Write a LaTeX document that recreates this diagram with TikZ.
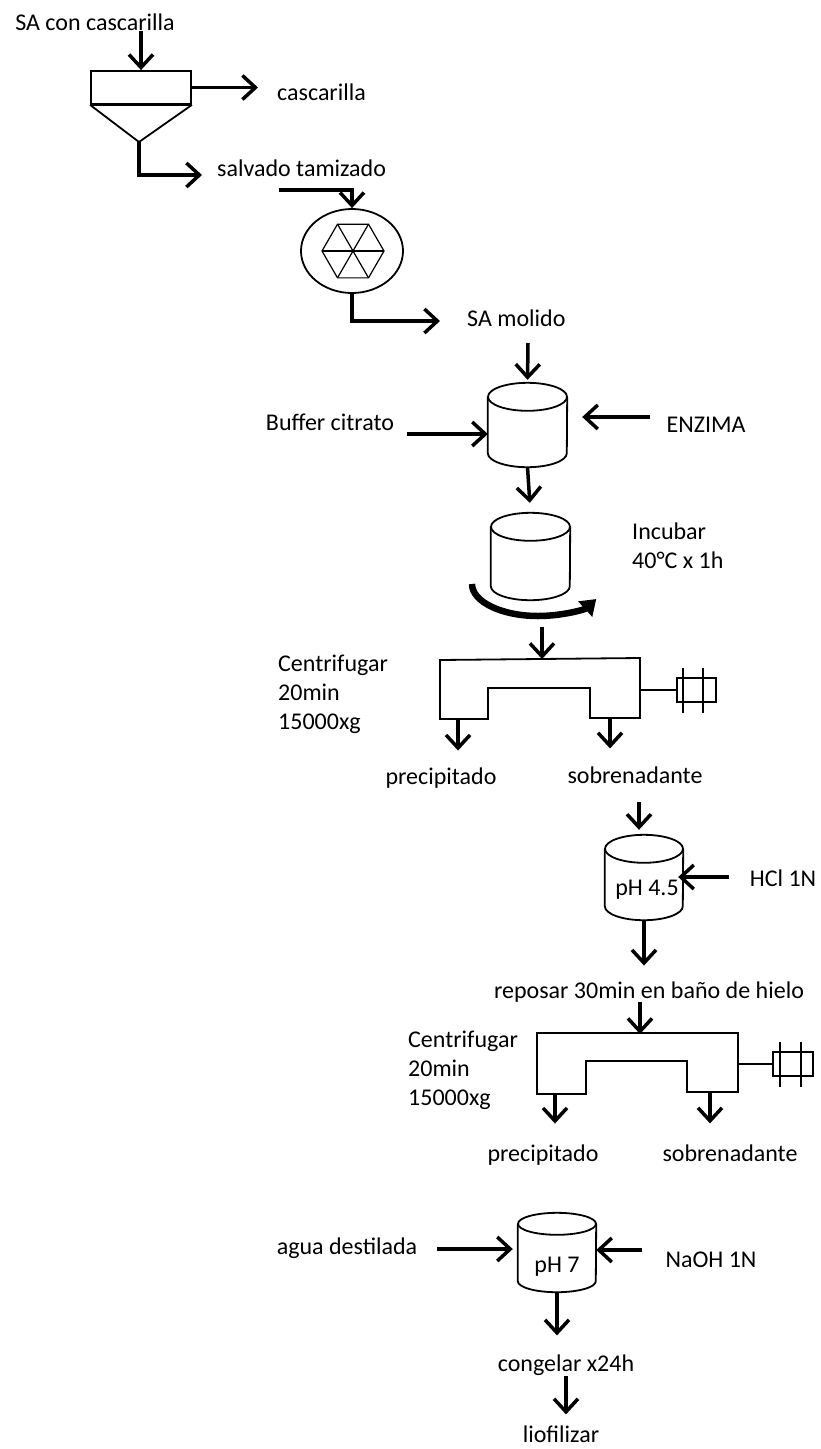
\documentclass[tikz,border=0pt]{standalone}
\usepackage{fontspec}
\setmainfont{Carlito}
\usetikzlibrary{arrows.meta,shapes.geometric,positioning}
% tanque: [ry] nombre, centro, ancho, alto
\newcommand{\drum}[5][14pt]{%
  \node[inner sep=0pt, minimum width=#4, minimum height=#5] (#2) at (#3) {};
  \draw[unit] ([yshift=-#1]#2.north) ellipse [x radius=#4/2, y radius=#1];
  \draw[unit] ([yshift=-#1]#2.north west) -- ([yshift=#1]#2.south west)
    arc[start angle=180, end angle=360, x radius=#4/2, y radius=#1]
    -- ([yshift=-#1]#2.north east);
}

\begin{document}
\begin{tikzpicture}[x=1pt, y=-1pt,
        flow/.style={line width=3.5pt, -{Straight Barb[length=13pt,width=24pt]}},
        unit/.style={draw, line width=1.8pt},
        lbl/.style={font=\fontsize{24}{29}\selectfont, inner sep=0pt}
        ]
        \useasboundingbox (0,0) rectangle (821,1449);
        % tamiz
        \node[unit, minimum width=100pt, minimum height=33pt, inner sep=0pt] (sieve) at (141,87.5) {};
        \coordinate (apex) at (139,142);
        \draw[unit] (sieve.south west) -- (apex) -- (sieve.south east);
        \draw[line width=3pt] (sieve.south west) -- (sieve.south east);
        \node[lbl] (feed) at (95,22) {SA con cascarilla};
        \draw[flow] (feed.south -| sieve.north) -- (sieve.north);
        \node[lbl, anchor=west] (husk) at (277,92) {cascarilla};
        \draw[flow, shorten >=19pt] (sieve.east) -- (husk.west |- sieve.east);
        \node[lbl, anchor=west] (sieved) at (217,168) {salvado tamizado};
        \coordinate (sv) at (202,175);
        \draw[flow] (apex) |- (sv);
        % molino
        \node[draw, ellipse, line width=1.8pt, minimum width=102pt, minimum height=84pt] (mill) at (352,251) {};
        \node[regular polygon, regular polygon sides=6, draw,
          line width=1.2pt, minimum size=62pt, inner sep=0pt, outer sep=0pt] (hex) at (353,251) {};
        \foreach \i/\j in {1/4,2/5,3/6}
          \draw[line width=1.2pt] (hex.corner \i) -- (hex.corner \j);
        \coordinate (millin) at (279,190);
        \draw[flow] (millin) -| (mill.north);
        \node[lbl, anchor=west] (milled) at (467,318) {SA molido};
        \coordinate (ml) at (440,321);
        \draw[flow] (mill.south) |- (ml);
        % mezcla
        \drum{mix}{527.5,425}{79pt}{84pt}
        \coordinate (mixin) at (528,343);
        \draw[flow, shorten >=3pt] (mixin) -- (mix.north);
        \node[lbl] (buf) at (330,422) {Buffer citrato};
        \coordinate (bufin) at (407,434);
        \draw[flow] (bufin) -- (bufin -| mix.west);
        \node[lbl] (enz) at (706,425) {ENZIMA};
        \coordinate (enzin) at (650,417);
        \draw[flow, shorten >=15pt] (enzin) -- (enzin -| mix.east);
        % incubar
        \drum{inc}{530.5,556.5}{79pt}{87pt}
        \draw[flow, shorten >=10pt] (mix.south) -- (inc.north);
        \node[lbl, anchor=west, align=left] (incl) at (632,546) {Incubar\\40°C x 1h};
        \draw[line width=6.5pt, -{Triangle[length=15pt,width=20pt]}] (472,584)
          arc[start angle=180, end angle=28, x radius=66, y radius=32];
        % centrifuga 1
        \draw[unit] (440,660) -- (640,658) -- (640,718) -- (590,718) -- (590,688)
          -- (488,688) -- (488,719) -- (440,719) -- cycle;
        \draw[unit] (640,690) -- (677,690);
        \draw[unit] (677,678) rectangle (716,702);
        \draw[unit] (683,668) -- (683,713) (703,668) -- (703,713);
        \coordinate (cf1) at (542,659);
        \coordinate (cf1in) at (542,627);
        \draw[flow] (cf1in) -- (cf1);
        \node[lbl, anchor=west, align=left] (cf1l) at (278,694) {Centrifugar\\20min\\15000xg};
        \node[lbl] (prec1) at (441,778) {precipitado};
        \node[lbl] (sup1) at (635,775) {sobrenadante};
        \coordinate (p1) at (458,719);
        \coordinate (s1) at (610,718);
        \draw[flow, shorten >=17pt] (p1) -- (p1 |- prec1.north);
        \draw[flow, shorten >=18pt] (s1) -- (s1 |- sup1.north);
        % pH 4.5
        \drum{acid}{644,877.5}{78pt}{85pt}
        \node[lbl] (acidl) at (647,890) {pH 4.5};
        \coordinate (s1out) at (639,802);
        \draw[flow, shorten >=5pt] (s1out) -- (s1out |- acid.north);
        \node[lbl] (hcl) at (783,878) {HCl 1N};
        \coordinate (hclin) at (729,877);
        \draw[flow, shorten >=-5pt] (hclin) -- (hclin -| acid.east);
        \node[lbl] (rest) at (649,992) {reposar 30min en baño de hielo};
        \draw[flow, shorten >=16pt] (acid.south) -- (acid.south |- rest.north);
        % centrifuga 2
        \draw[unit] (537,1033) -- (738,1033) -- (738,1092) -- (687,1092) -- (687,1061)
          -- (586,1061) -- (586,1094) -- (537,1094) -- cycle;
        \draw[unit] (738,1064) -- (773,1064);
        \draw[unit] (773,1052) rectangle (813,1076);
        \draw[unit] (780,1042) -- (780,1087) (801,1042) -- (801,1087);
        \coordinate (cf2) at (640,1034);
        \draw[flow] (rest.south -| cf2) -- (cf2);
        \node[lbl, anchor=west, align=left] (cf2l) at (408,1070) {Centrifugar\\20min\\15000xg};
        \node[lbl] (prec2) at (543,1155) {precipitado};
        \node[lbl] (sup2) at (730,1153) {sobrenadante};
        \coordinate (p2) at (555,1094);
        \coordinate (s2) at (710,1092);
        \draw[flow, shorten >=21pt] (p2) -- (p2 |- prec2.north);
        \draw[flow, shorten >=21pt] (s2) -- (s2 |- sup2.north);
        % pH 7
        \drum[11pt]{neut}{557,1252.5}{78pt}{79pt}
        \node[lbl] (neutl) at (557,1267) {pH 7};
        \node[lbl] (water) at (347,1248) {agua destilada};
        \coordinate (win) at (437,1249);
        \draw[flow, shorten >=5pt] (win) -- (win -| neut.west);
        \node[lbl] (naoh) at (711,1260) {NaOH 1N};
        \coordinate (nin) at (642,1250);
        \draw[flow] (nin) -- (nin -| neut.east);
        \node[lbl] (freeze) at (566,1365) {congelar x24h};
        \draw[flow, shorten >=19pt] (neut.south) -- (neut.south |- freeze.north);
        \node[lbl] (lyo) at (561,1434) {liofilizar};
        \draw[flow, shorten >=11pt] (freeze.south) -- (freeze.south |- lyo.north);
      \end{tikzpicture}
\end{document}
